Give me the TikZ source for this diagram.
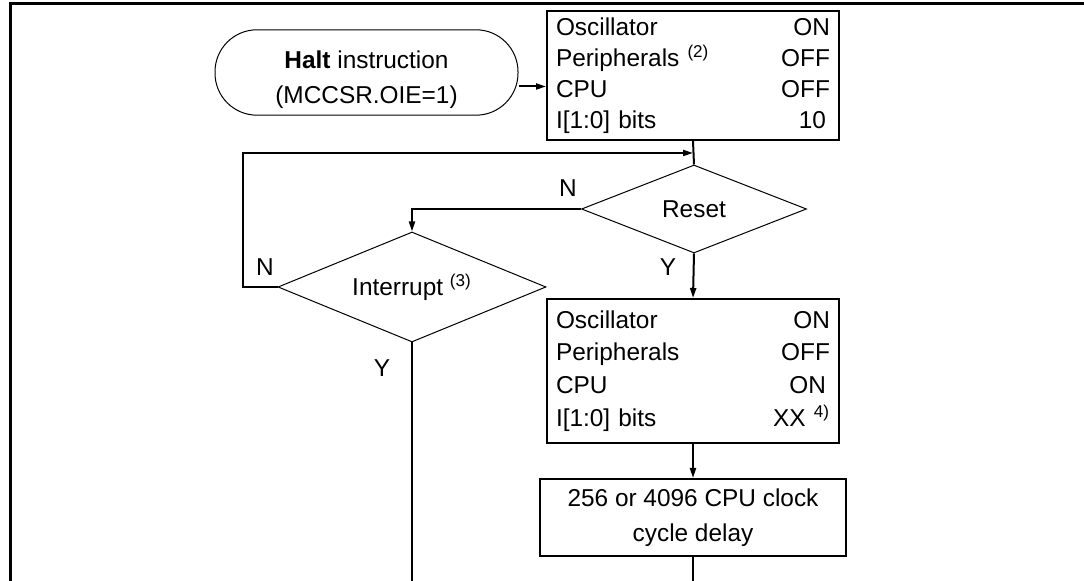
\documentclass[tikz,border=0pt]{standalone}
\usepackage{fontspec}
\setmainfont{Liberation Sans}
\usetikzlibrary{shapes.geometric,arrows.meta,positioning}

\newcommand{\staterow}[2]{#1\hfill#2\hspace*{4pt}}

\begin{document}
\begin{tikzpicture}[x=0.5pt, y=-0.5pt, font=\fontsize{12.2}{14}\selectfont,
    box/.style={rectangle, draw, line width=1pt, inner xsep=4.5pt, inner ysep=0pt, align=left},
    terminal/.style={rectangle, draw, line width=0.5pt, rounded corners=21pt, align=center,
        minimum width=151.5pt, minimum height=42.5pt, font=\fontsize{12.2}{17.5}\selectfont},
    decision/.style={diamond, draw, line width=0.5pt, inner sep=0pt, aspect=2.5},
    conn/.style={line width=1pt},
    arrow/.style={conn, -{Triangle[length=5pt, width=3pt]}},
    lbl/.style={inner sep=0pt}]

    \useasboundingbox (0,0) rectangle (1084,581);
    \clip (0,0) rectangle (1084,581);

    % frame of the figure
    \draw[line width=1.5pt] (10,4) rectangle (1100,600);

    \node[terminal] (halt) at (366.5,72.5) {\rule{0pt}{16pt}\textbf{Halt} instruction\\(MCCSR.OIE=1)};

    \node[box, minimum height=64.5pt, text width=137pt,
        font=\fontsize{12.2}{15.5}\selectfont] (haltmode) at (693,75.5)
        {\staterow{Oscillator}{ON}\\
         \staterow{Peripherals \textsuperscript{(2)}}{OFF}\\
         \staterow{CPU}{OFF}\\
         \staterow{I[1:0] bits}{10\hspace*{2pt}}};

    \node[decision, minimum width=112.5pt, minimum height=44pt] (reset) at (694,209) {Reset};
    \node[decision, minimum width=134pt, minimum height=55pt] (irq) at (412,287) {Interrupt \textsuperscript{(3)}};

    \node[box, minimum height=72pt, text width=137pt,
        font=\fontsize{12.2}{16.3}\selectfont] (wakeup) at (693,371)
        {\staterow{Oscillator}{ON}\\
         \staterow{Peripherals}{OFF}\\
         \staterow{CPU}{ON\hspace*{2pt}}\\
         \staterow{I[1:0] bits}{XX \textsuperscript{4)}}};

    \node[box, align=center, minimum width=153pt, minimum height=38.5pt,
        font=\fontsize{12.2}{17.5}\selectfont] (delay) at (693,517.5)
        {256 or 4096 CPU clock\\cycle delay};

    \coordinate (hs) at ([yshift=-7pt]halt.east);
    \coordinate (loop) at (243,153);
    \coordinate (delayout) at (693,594);
    \coordinate (irqout) at (412,600);

    \draw[arrow] (hs) -- (hs -| haltmode.west);
    \draw[conn] (haltmode.south) -- (reset.north);
    \draw[arrow] (reset.west) -| (irq.north);
    \draw[arrow] (irq.west) -| (loop) -- (loop -| haltmode.south);
    \draw[arrow] (reset.south) -- (wakeup.north);
    \draw[arrow] (wakeup.south) -- (delay.north);
    \draw[arrow] (delay.south) -- (delayout);
    \draw[conn] (irq.south) -- (irqout);

    \node[lbl] (resetn) at (568,188) {N};
    \node[lbl] (resety) at (668,267) {Y};
    \node[lbl] (irqn) at (265,267) {N};
    \node[lbl] (irqy) at (382,368) {Y};
\end{tikzpicture}
\end{document}
